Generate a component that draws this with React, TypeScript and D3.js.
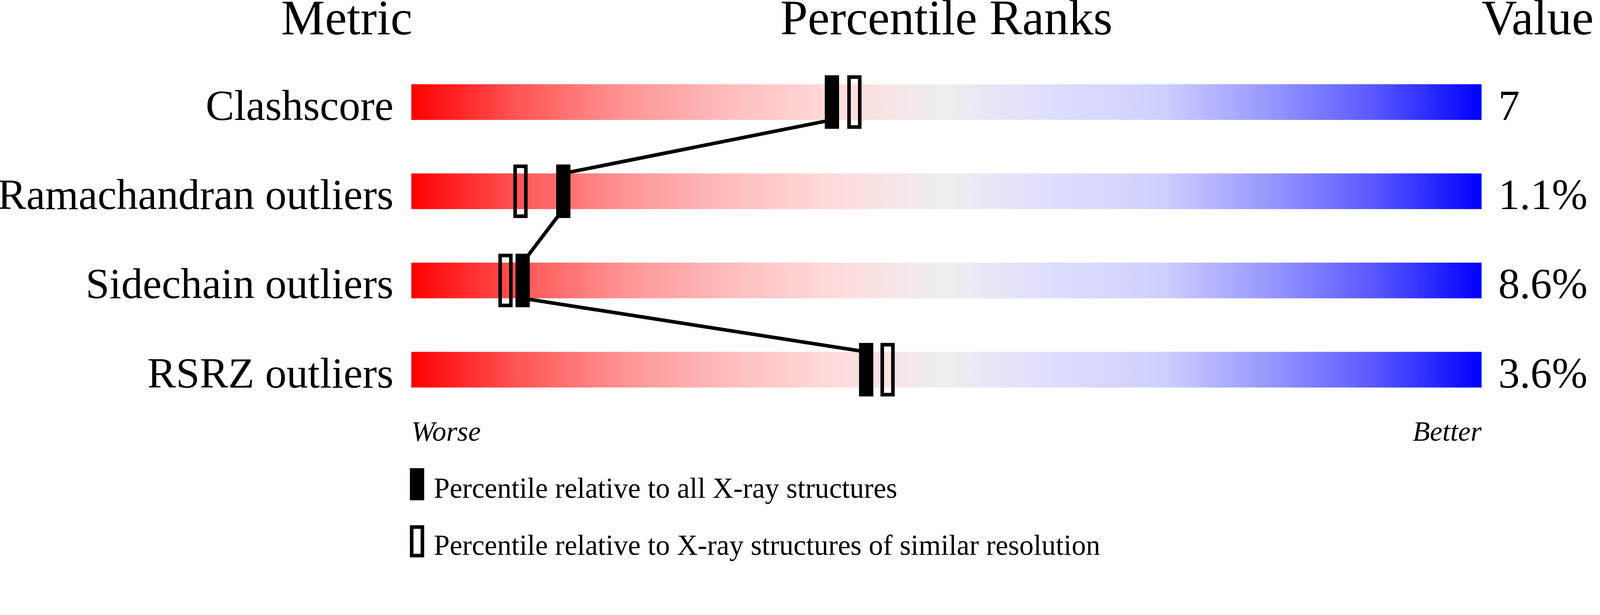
import * as d3 from 'd3';

// wwPDB-style percentile slider
const metrics = ['Clashscore', 'Ramachandran outliers', 'Sidechain outliers', 'RSRZ outliers'];
const values = ['7', '1.1%', '8.6%', '3.6%'];
// percentile relative to all X-ray structures (filled marker)
const pctAll = [39.3, 14.2, 10.4, 42.5];
// percentile relative to structures of similar resolution (open marker)
const pctSimilar = [41.4, 10.2, 8.8, 44.5];

const gradientOffsets = [0, 0.1, 0.2, 0.3, 0.4, 0.5, 0.6, 0.7, 0.8, 0.9, 1];
const gradientColors = [
  '#ff0000', '#ff5555', '#ff9494', '#ffbebe', '#ffdcdc', '#eeeeee',
  '#ddddff', '#d0d0ff', '#9898ff', '#5858ff', '#0000ff',
];

const legendLabels = [
  'Percentile relative to all X-ray structures',
  'Percentile relative to X-ray structures of similar resolution',
];

const W = 4485;
const H = 1574;
const FONT = "'Liberation Serif', 'Times New Roman', serif";

export default function App() {
  const x = d3.scaleLinear().domain([0, 100]).range([1153, 4153]);
  const y = d3.scalePoint<string>().domain(metrics).range([286, 1036]);
  const barH = 100;

  const links = d3.pairs(metrics.map((m, i) => ({ m, p: pctAll[i] })));

  return (
    <svg
      viewBox={`0 0 ${W} ${H}`}
      preserveAspectRatio="xMinYMin meet"
      style={{ position: 'fixed', left: 0, top: 0, width: '100vw', height: '100vh', background: '#fff' }}
      fontFamily={FONT}
    >
      <defs>
        <linearGradient id="slider" x1="0" x2="1" y1="0" y2="0">
          {gradientOffsets.map((o, i) => (
            <stop key={i} offset={o} stopColor={gradientColors[i]} />
          ))}
        </linearGradient>
      </defs>

      {/* headers */}
      <text x={x(0) + 3} y={96} fontSize={138} textAnchor="end">Metric</text>
      <text x={(x(0) + x(100)) / 2} y={96} fontSize={138} textAnchor="middle">Percentile Ranks</text>
      <text x={x(100)} y={96} fontSize={138}>Value</text>

      {/* bars */}
      {metrics.map((m, i) => (
        <g key={m}>
          <rect x={x(0)} y={y(m)! - barH / 2} width={x(100) - x(0)} height={barH} fill="url(#slider)" />
          <text x={1103} y={y(m)! + barH / 2} fontSize={120} textAnchor="end">{m}</text>
          <text x={4200} y={y(m)! + barH / 2} fontSize={120}>{values[i]}</text>
        </g>
      ))}

      {/* connecting line between filled markers */}
      {links.map(([a, b], i) => (
        <line
          key={i}
          x1={x(a.p)}
          y1={y(a.m)! + barH / 2}
          x2={x(b.p)}
          y2={y(b.m)! - barH / 2}
          stroke="#000"
          strokeWidth={10}
        />
      ))}

      {/* markers */}
      {metrics.map((m, i) => (
        <g key={m + '-mk'}>
          <rect x={x(pctSimilar[i]) - 15} y={y(m)! - 70} width={30} height={140} fill="none" stroke="#000" strokeWidth={10} />
          <rect x={x(pctAll[i]) - 20} y={y(m)! - 75} width={40} height={150} fill="#000" />
        </g>
      ))}

      <text x={x(0)} y={1235} fontSize={79} fontStyle="italic">Worse</text>
      <text x={x(100)} y={1235} fontSize={79} fontStyle="italic" textAnchor="end">Better</text>

      {/* legend */}
      <rect x={1149} y={1312} width={40} height={90} fill="#000" />
      <text x={1216} y={1395} fontSize={80}>{legendLabels[0]}</text>
      <rect x={1154} y={1477} width={30} height={80} fill="none" stroke="#000" strokeWidth={10} />
      <text x={1216} y={1555} fontSize={80}>{legendLabels[1]}</text>
    </svg>
  );
}
